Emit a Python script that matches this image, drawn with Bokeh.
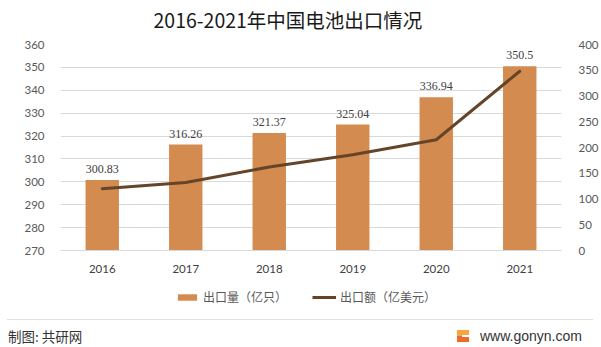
from bokeh.plotting import figure
from bokeh.layouts import column
from bokeh.models import (Range1d, LinearAxis, FactorRange, ColumnDataSource, Legend,
                          LegendItem, LabelSet, FixedTicker, Div)
from bokeh.core.properties import value
from bokeh.embed import file_html
from bokeh.resources import INLINE

# ---- data ----
years = ["2016", "2017", "2018", "2019", "2020", "2021"]
volume = [300.83, 316.26, 321.37, 325.04, 336.94, 350.5]          # 出口量（亿只）
volume_labels = ["300.83", "316.26", "321.37", "325.04", "336.94", "350.5"]
export_value = [120, 132, 162, 186, 215, 348]                      # 出口额（亿美元）
left_ticks = [270, 280, 290, 300, 310, 320, 330, 340, 350, 360]
right_ticks = [0, 50, 100, 150, 200, 250, 300, 350, 400]

title_text = "2016-2021年中国电池出口情况"
legend_labels = ["出口量（亿只）", "出口额（亿美元）"]
source_text = "制图: 共研网"
site_text = "www.gonyn.com"

BAR = "#D48B4F"
LINE = "#654529"
GRID = "#D9D9D9"
AXIS_TXT = "#595959"
NUM_FONT = "Lato"
CJK_FONT = "Noto Sans CJK SC"

FL, FR = 60, 561   # plot-area left/right edges (page px); layout aligns all strips to these


def strip(h):
    # x range maps the aligned frame (FL..FR) to page pixels, y runs downward
    f = figure(width=601, height=h, x_range=Range1d(FL, FR), y_range=Range1d(h, 0),
               output_backend="svg", toolbar_location=None, x_axis_type=None,
               y_axis_type=None, min_border=0, min_border_left=0, min_border_right=0,
               min_border_top=0, min_border_bottom=0)
    f.outline_line_color = None
    f.grid.visible = False
    f.background_fill_color = "white"
    f.border_fill_color = "white"
    return f


# ---- top strip: title ----
TH = 36
t = strip(TH)
t.text(x=[153], y=[18.7], text=[title_text], text_align="left", text_baseline="middle",
       text_font=value(CJK_FONT), text_font_size="19.5px", text_color="#1A1A1A")

# ---- main chart ----
src = ColumnDataSource(dict(year=years, volume=volume, vlabel=volume_labels, usd=export_value))

MAIN_BOTTOM = 280
MH = MAIN_BOTTOM - TH
p = figure(width=601, height=MH, x_range=FactorRange(*years), y_range=Range1d(270, 360),
           output_backend="svg", toolbar_location=None,
           min_border_left=FL, min_border_right=601 - FR, min_border_top=44 - TH,
           min_border_bottom=MAIN_BOTTOM - 250)
p.outline_line_color = None
p.background_fill_color = "white"
p.border_fill_color = "white"

p.extra_y_ranges = {"usd": Range1d(0, 400)}

# left axis
ya = p.yaxis[0]
ya.ticker = FixedTicker(ticks=left_ticks)
ya.axis_line_color = None
ya.major_tick_line_color = None
ya.minor_tick_line_color = None
ya.major_label_text_font = NUM_FONT
ya.major_label_text_font_size = "11.5px"
ya.major_label_text_color = AXIS_TXT
ya.major_label_standoff = 10

# right axis
ra = LinearAxis(y_range_name="usd", ticker=FixedTicker(ticks=right_ticks))
ra.axis_line_color = None
ra.major_tick_line_color = None
ra.minor_tick_line_color = None
ra.major_label_text_font = NUM_FONT
ra.major_label_text_font_size = "11.5px"
ra.major_label_text_color = AXIS_TXT
ra.major_label_standoff = 11
p.add_layout(ra, "right")

# x axis
xa = p.xaxis[0]
xa.axis_line_color = GRID
xa.axis_line_width = 1
xa.major_tick_line_color = None
xa.minor_tick_line_color = None
xa.major_label_text_font = NUM_FONT
xa.major_label_text_font_size = "11.5px"
xa.major_label_text_color = "#404040"
xa.major_label_standoff = 8

p.xgrid.grid_line_color = None
p.ygrid.grid_line_color = GRID
p.ygrid.grid_line_width = 1

bars = p.vbar(x="year", top="volume", bottom=270, width=0.4, source=src,
              fill_color=BAR, line_color=None)
line = p.line(x="year", y="usd", y_range_name="usd", source=src,
              line_color=LINE, line_width=3, line_join="round", line_cap="round")

labels = LabelSet(x="year", y="volume", text="vlabel", source=src, text_align="center",
                  text_baseline="bottom", y_offset=7, text_font=NUM_FONT,
                  text_font_size="12px", text_color="#404040")
p.add_layout(labels)

# ---- legend strip ----
LH = 37
q = strip(LH)
leg_bar = q.vbar(x=[-100], top=[-100], bottom=[-110], width=1, fill_color=BAR, line_color=None)
leg_line = q.line(x=[-100, -90], y=[-100, -100], line_color=LINE, line_width=3)
legend = Legend(items=[LegendItem(label=legend_labels[0], renderers=[leg_bar]),
                       LegendItem(label=legend_labels[1], renderers=[leg_line])],
                orientation="horizontal", location=(115, 12),
                glyph_width=24, glyph_height=8, label_standoff=4, spacing=25,
                padding=3, margin=0, border_line_color=None, background_fill_alpha=0,
                label_text_font=CJK_FONT, label_text_font_size="12px",
                label_text_color=AXIS_TXT)
q.add_layout(legend, "center")

# ---- footer ----
FH = 347 - MAIN_BOTTOM - LH
footer_html = (
    f'<div style="position:relative;width:601px;height:{FH}px;background:white;">'
    '<div style="position:absolute;left:7px;top:2px;width:586px;height:1px;'
    'background:#E0E0E0;"></div>'
    f'<div style="position:absolute;left:8px;top:10px;font-family:\'{CJK_FONT}\';'
    f'font-size:13.5px;line-height:18px;color:#333333;white-space:nowrap;">{source_text}</div>'
    '<div style="position:absolute;left:457px;top:13px;width:12px;height:12px;'
    'background:linear-gradient(#F7A540 50%, #EF6B2D 50%);"></div>'
    '<div style="position:absolute;left:462px;top:18px;width:7px;height:2px;'
    'background:white;"></div>'
    '<div style="position:absolute;left:480px;top:10px;font-family:\'Liberation Sans\';'
    f'font-size:14px;line-height:18px;color:#333333;white-space:nowrap;">{site_text}</div>'
    '</div>'
)
footer = Div(text=footer_html, width=601, height=FH, margin=0)

layout = column(t, p, q, footer, spacing=0)
open("out.html", "w").write(file_html(layout, INLINE))
